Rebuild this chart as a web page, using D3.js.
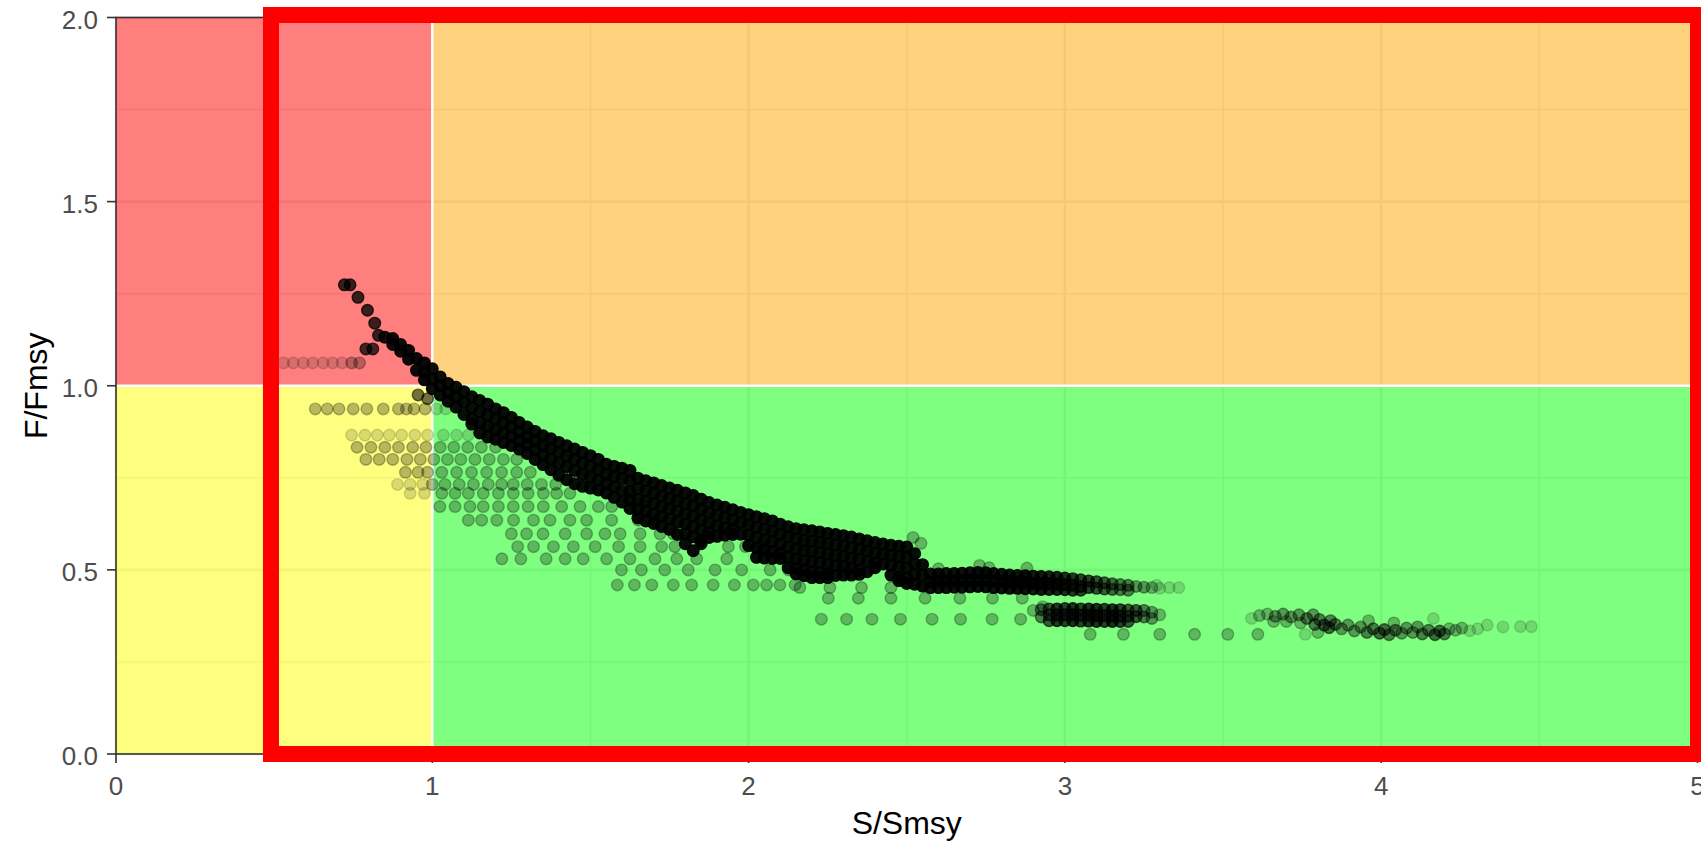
<!DOCTYPE html>
<html><head><meta charset="utf-8">
<script src="https://cdn.jsdelivr.net/npm/d3@7"></script>
<style>body{margin:0;background:#fff}svg{display:block}</style>
</head><body>
<svg id="chart" width="1701" height="843"></svg>
<script>
// ---------- axes / ticks ----------
const xTicks = [0, 1, 2, 3, 4, 5];
const xTickLabels = ["0", "1", "2", "3", "4", "5"];
const xMinor = [0.5, 1.5, 2.5, 3.5, 4.5];
const yTicks = [0, 0.5, 1, 1.5, 2];
const yTickLabels = ["0.0", "0.5", "1.0", "1.5", "2.0"];
const yMinor = [0.25, 0.75, 1.25, 1.75];
const xTitle = "S/Smsy";
const yTitle = "F/Fmsy";

// ---------- status zones [S0,S1,F0,F1,colour] ----------
const zones = [
  [0, 1, 1, 2, "#FF0000"],
  [1, 5, 1, 2, "#FFA500"],
  [0, 1, 0, 1, "#FFFF00"],
  [1, 5, 0, 1, "#00FF00"]
];
const refS = 1, refF = 1;

// ---------- points: [S, F, overlapping count] ----------
const trail = [
  [0.722,1.274,9],[0.740,1.274,9],[0.765,1.240,9],[0.795,1.205,9],
  [0.818,1.170,9],[0.830,1.137,9],[0.790,1.100,8],[0.812,1.100,8]
];
// rows: [F, [S...], count]
const redRow = [
  [1.062,[0.530,0.560,0.592,0.622,0.655,0.685,0.715],1],
  [1.062,[0.745,0.770],2]
];
const yellowRows = [
  [0.937,[0.630,0.668,0.705,0.750,0.793,0.845,0.893,0.918,0.942,0.977],2],
  [0.937,[1.014,1.042],1],
  [0.866,[0.745,0.787,0.826,0.864,0.903,0.945,0.985],1],
  [0.833,[0.762,0.806,0.850,0.893,0.938,0.980],2],
  [0.800,[0.790,0.832,0.875,0.920,0.962],2],
  [0.765,[0.915,0.955,0.985],2],
  [0.732,[0.890,0.930,0.970],1],
  [0.708,[0.930,0.975],1]
];
const greenRows = [
  [0.866,[1.035,1.077,1.114],1],
  [0.833,[1.025,1.068,1.112,1.155,1.200],2],
  [0.800,[1.005,1.048,1.090,1.135,1.180,1.225,1.267],2],
  [0.765,[1.030,1.077,1.124,1.172,1.219,1.267,1.310],2],
  [0.732,[1.000,1.040,1.085,1.130,1.177,1.219,1.256,1.300,1.345,1.390],2],
  [0.708,[1.030,1.072,1.114,1.161,1.209,1.256,1.303,1.351,1.393,1.435],2],
  [0.672,[1.024,1.072,1.119,1.161,1.209,1.256,1.303,1.351,1.409,1.467,1.525,1.567],2],
  [0.635,[1.114,1.156,1.204,1.257,1.320,1.372,1.435,1.488,1.567,1.651,1.704],2],
  [0.598,[1.250,1.298,1.350,1.420,1.488,1.546,1.594,1.657,1.720,1.762],2],
  [0.563,[1.270,1.320,1.383,1.446,1.515,1.589,1.657,1.725,1.767,1.936,1.990,2.040],2],
  [0.530,[1.220,1.280,1.360,1.420,1.477,1.551,1.625,1.704,1.773,1.836,1.931],2],
  [0.500,[1.598,1.661,1.735,1.809,1.894,1.978,2.068,2.126],2],
  [0.459,[1.585,1.639,1.694,1.762,1.820,1.888,1.955,2.015,2.057,2.099,2.147],2]
];
const lowerRows = [
  [0.452,[2.162,2.257,2.357,2.450],2],
  [0.423,[2.252,2.347,2.450,2.558,2.668,2.771,2.865],2],
  [0.366,[2.230,2.310,2.390,2.480,2.580,2.670,2.770,2.860],2],
  [0.325,[3.080,3.185,3.300,3.410,3.515,3.610],2]
];
// columns: [S, [F...], count]
const bandCols = [
  [0.850,[1.132],14],[0.875,[1.128,1.112],16],[0.900,[1.112,1.094],18],
  [0.925,[1.096,1.072],18],[0.950,[1.074,1.042],18],[0.975,[1.062,1.038,1.016],18],
  [1.000,[1.046,1.018,0.992],18],[1.025,[1.024,1.000,0.975],18],[1.050,[1.006,0.982,0.958],18],
  [1.075,[0.996,0.970,0.942],18],[1.100,[0.984,0.955,0.922],18],[1.125,[0.970,0.940,0.910,0.896],18],
  [1.150,[0.960,0.930,0.900,0.872],18],[1.175,[0.950,0.920,0.890,0.861],18],[1.200,[0.937,0.910,0.880,0.855],18],
  [1.225,[0.927,0.900,0.872,0.846],18],[1.250,[0.914,0.888,0.862,0.838],18],[1.275,[0.900,0.875,0.850,0.828],18],
  [1.300,[0.888,0.862,0.840,0.816],18],[1.325,[0.876,0.850,0.826,0.800],18],[1.350,[0.864,0.838,0.812,0.786],18],
  [1.375,[0.856,0.830,0.800,0.772],18],[1.400,[0.846,0.820,0.790,0.757],18],[1.425,[0.837,0.810,0.780,0.745],18],
  [1.450,[0.828,0.800,0.770,0.734],18],[1.475,[0.819,0.790,0.760,0.727],18],[1.500,[0.810,0.782,0.752,0.722],18],
  [1.525,[0.800,0.772,0.744,0.717],18],[1.550,[0.787,0.760,0.735,0.709],18],[1.575,[0.781,0.754,0.725,0.697],18],
  [1.600,[0.776,0.748,0.715,0.684],18],[1.625,[0.770,0.742,0.712,0.690,0.667],18],[1.650,[0.749,0.720,0.690,0.665,0.641],18],
  [1.675,[0.742,0.715,0.686,0.660,0.633],18],[1.700,[0.736,0.708,0.680,0.652,0.626],18],[1.725,[0.729,0.700,0.672,0.645,0.618],18],
  [1.750,[0.722,0.694,0.666,0.638,0.610],18],[1.775,[0.716,0.688,0.660,0.630,0.596],18],[1.800,[0.709,0.680,0.652,0.624,0.598,0.571],18],
  [1.825,[0.702,0.674,0.646,0.618,0.590,0.552],18],[1.850,[0.692,0.664,0.636,0.608,0.580,0.571],18],[1.875,[0.683,0.655,0.627,0.600,0.588],18],
  [1.900,[0.676,0.648,0.620,0.591],18],[1.925,[0.670,0.642,0.614,0.594],18],[1.950,[0.663,0.636,0.610,0.596],18],
  [1.975,[0.656,0.628,0.597],18],[2.000,[0.650,0.622,0.594,0.566],18],[2.025,[0.644,0.616,0.588,0.560,0.534],18],
  [2.050,[0.639,0.610,0.582,0.555,0.532],18],[2.075,[0.633,0.605,0.577,0.550,0.531],18],[2.100,[0.624,0.597,0.570,0.545,0.531],18],
  [2.125,[0.617,0.590,0.562,0.535,0.506],18],[2.150,[0.612,0.585,0.557,0.530,0.505,0.489],18],[2.175,[0.609,0.580,0.552,0.525,0.500,0.484],18],
  [2.200,[0.606,0.578,0.550,0.522,0.495,0.479],18],[2.225,[0.603,0.575,0.547,0.520,0.492,0.479],18],[2.250,[0.599,0.571,0.543,0.515,0.490,0.479],18],
  [2.275,[0.596,0.568,0.540,0.512,0.485],18],[2.300,[0.593,0.565,0.537,0.510,0.486],18],[2.325,[0.589,0.560,0.532,0.505,0.486],18],
  [2.350,[0.584,0.556,0.528,0.500,0.488],18],[2.375,[0.579,0.551,0.523,0.495],18],[2.400,[0.574,0.546,0.520,0.506],18],
  [2.425,[0.570,0.542,0.516],18],[2.450,[0.567,0.540,0.512,0.486],18],[2.475,[0.564,0.536,0.508,0.480,0.471],18],
  [2.500,[0.562,0.534,0.506,0.478,0.463],18],[2.525,[0.544,0.516,0.488,0.461],18],[2.550,[0.514,0.486,0.456],18],
  [2.575,[0.489,0.468,0.452],16],[2.600,[0.489,0.470,0.452],16],[2.625,[0.490,0.470,0.452],16],
  [2.650,[0.490,0.470,0.453],16],[2.675,[0.491,0.471,0.453],16],[2.700,[0.492,0.472,0.454],16],
  [2.725,[0.493,0.472,0.455],16],[2.750,[0.492,0.472,0.454],16],[2.775,[0.490,0.470,0.452],16],
  [2.800,[0.488,0.469,0.451],16],[2.825,[0.486,0.468,0.450],16],[2.850,[0.485,0.467,0.450],16],
  [2.875,[0.484,0.466,0.449],16],[2.900,[0.483,0.464,0.448],14],[2.925,[0.482,0.463,0.447],14],
  [2.950,[0.481,0.462,0.447],12],[2.975,[0.480,0.461,0.447],12],[3.000,[0.478,0.460,0.446],10],
  [3.025,[0.476,0.458,0.445],9],[3.050,[0.473,0.455,0.445],8],[3.075,[0.470,0.452],8],
  [3.100,[0.468,0.450],7],[3.125,[0.465,0.448],6],[3.150,[0.462,0.447],5],
  [3.175,[0.460,0.446],4],[3.200,[0.458,0.445],4],[3.225,[0.455],3],
  [3.250,[0.453],3],[3.275,[0.452],2],[3.300,[0.450],1]
];
const subBandCols = [
  [2.900,[0.390],2],[2.925,[0.392,0.372],4],[2.950,[0.394,0.378,0.362],6],
  [2.975,[0.394,0.378,0.362],9],[3.000,[0.395,0.378,0.362],8],[3.025,[0.395,0.378,0.362],10],
  [3.050,[0.394,0.377,0.361],8],[3.075,[0.394,0.377,0.361],10],[3.100,[0.393,0.376,0.360],10],
  [3.125,[0.393,0.376,0.360],8],[3.150,[0.392,0.375,0.360],10],[3.175,[0.392,0.375,0.360],8],
  [3.200,[0.391,0.374,0.360],6],[3.225,[0.390,0.373],6],[3.250,[0.390,0.372],4],
  [3.275,[0.385,0.368],3],[3.300,[0.378],2]
];
const extraPts = [
  [0.955,0.975,5],[0.985,0.965,5],[2.520,0.588,2],[2.545,0.572,2],[2.600,0.503,2],
  [2.730,0.512,2],[2.760,0.506,2],[2.880,0.505,2],[3.290,0.458,1],[3.330,0.452,1],
  [3.360,0.452,1],[2.930,0.400,2]
];
const tail = [
  [3.590,0.368,1],[3.615,0.376,2],[3.640,0.380,2],[3.660,0.360,2],[3.665,0.374,3],[3.690,0.380,3],
  [3.700,0.360,2],[3.715,0.372,3],[3.740,0.378,3],[3.745,0.356,2],[3.760,0.325,1],[3.765,0.368,4],
  [3.785,0.378,3],[3.790,0.352,4],[3.800,0.330,2],[3.805,0.365,4],[3.820,0.350,5],[3.835,0.343,5],
  [3.840,0.362,4],[3.855,0.352,4],[3.875,0.340,3],[3.895,0.350,3],[3.915,0.334,3],[3.935,0.345,3],
  [3.955,0.330,4],[3.960,0.362,2],[3.975,0.340,4],[3.995,0.328,5],[4.010,0.338,5],[4.025,0.324,4],
  [4.040,0.356,2],[4.045,0.336,4],[4.065,0.328,3],[4.080,0.342,3],[4.100,0.330,3],[4.115,0.345,3],
  [4.130,0.326,4],[4.150,0.336,4],[4.165,0.368,1],[4.170,0.324,5],[4.185,0.334,5],[4.200,0.326,4],
  [4.215,0.340,2],[4.235,0.336,2],[4.255,0.342,2],[4.280,0.335,1],[4.305,0.340,1],[4.335,0.350,1],
  [4.385,0.345,1],[4.440,0.346,1],[4.475,0.346,1]
];

// ---------- build ----------
const svg = d3.select("#chart");
const x = d3.scaleLinear().domain([0, 5]).range([116, 1697.5]);
const y = d3.scaleLinear().domain([0, 2]).range([754, 17.5]);
const font = "'Liberation Sans', Arial, Helvetica, sans-serif";

const pts = [];
const addPt = (s, f, n) => pts.push({s, f, n});
trail.forEach(d => addPt(d[0], d[1], d[2]));
[redRow, yellowRows, greenRows, lowerRows].forEach(rows =>
  rows.forEach(([f, ss, n]) => ss.forEach(s => addPt(s, f, n))));
[bandCols, subBandCols].forEach(cols =>
  cols.forEach(([s, fs, n]) => fs.forEach(f => addPt(s, f, n))));
extraPts.forEach(d => addPt(d[0], d[1], d[2]));
tail.forEach(d => addPt(d[0], d[1], d[2]));

const panel = svg.append("g");
panel.append("rect").attr("x", x(0)).attr("y", y(2))
  .attr("width", x(5) - x(0)).attr("height", y(0) - y(2)).attr("fill", "#fff");

// grid
const grid = panel.append("g").attr("stroke", "#EBEBEB").attr("fill", "none");
grid.selectAll(".vmin").data(xMinor).join("line")
  .attr("x1", d => x(d)).attr("x2", d => x(d)).attr("y1", y(0)).attr("y2", y(2)).attr("stroke-width", 1.5);
grid.selectAll(".hmin").data(yMinor).join("line")
  .attr("y1", d => y(d)).attr("y2", d => y(d)).attr("x1", x(0)).attr("x2", x(5)).attr("stroke-width", 1.5);
grid.selectAll(".vmaj").data(xTicks).join("line")
  .attr("x1", d => x(d)).attr("x2", d => x(d)).attr("y1", y(0)).attr("y2", y(2)).attr("stroke-width", 2.6);
grid.selectAll(".hmaj").data(yTicks).join("line")
  .attr("y1", d => y(d)).attr("y2", d => y(d)).attr("x1", x(0)).attr("x2", x(5)).attr("stroke-width", 2.6);

// zones
panel.selectAll(".zone").data(zones).join("rect")
  .attr("x", d => x(d[0])).attr("width", d => x(d[1]) - x(d[0]))
  .attr("y", d => y(d[3])).attr("height", d => y(d[2]) - y(d[3]))
  .attr("fill", d => d[4]).attr("fill-opacity", 0.5);

// reference lines
panel.append("line").attr("x1", x(refS)).attr("x2", x(refS)).attr("y1", y(0)).attr("y2", y(2))
  .attr("stroke", "#fff").attr("stroke-width", 2.5);
panel.append("line").attr("x1", x(0)).attr("x2", x(5)).attr("y1", y(refF)).attr("y2", y(refF))
  .attr("stroke", "#fff").attr("stroke-width", 2.5);

// points
const ALPHA = 0.15;
panel.append("g").selectAll("circle").data(pts).join("circle")
  .attr("cx", d => x(d.s)).attr("cy", d => y(d.f)).attr("r", 5.8)
  .attr("fill", "#000").attr("stroke", "#000").attr("stroke-width", 1.4)
  .attr("fill-opacity", d => 1 - Math.pow(1 - ALPHA, d.n))
  .attr("stroke-opacity", d => 1 - Math.pow(1 - ALPHA, d.n));

// panel border
panel.append("rect").attr("x", x(0)).attr("y", y(2))
  .attr("width", x(5) - x(0)).attr("height", y(0) - y(2))
  .attr("fill", "none").attr("stroke", "#333").attr("stroke-width", 1.6);

// ticks
const ax = svg.append("g");
ax.selectAll(".xt").data(xTicks).join("line")
  .attr("x1", d => x(d)).attr("x2", d => x(d)).attr("y1", y(0)).attr("y2", y(0) + 9)
  .attr("stroke", "#333").attr("stroke-width", 1.6);
ax.selectAll(".yt").data(yTicks).join("line")
  .attr("y1", d => y(d)).attr("y2", d => y(d)).attr("x1", x(0) - 9).attr("x2", x(0))
  .attr("stroke", "#333").attr("stroke-width", 1.6);
ax.selectAll(".xl").data(xTicks).join("text")
  .attr("x", d => x(d)).attr("y", 795).attr("text-anchor", "middle")
  .attr("font-family", font).attr("font-size", 26).attr("fill", "#4D4D4D")
  .text((d, i) => xTickLabels[i]);
ax.selectAll(".yl").data(yTicks).join("text")
  .attr("x", 98).attr("y", d => y(d) + 11).attr("text-anchor", "end")
  .attr("font-family", font).attr("font-size", 26).attr("fill", "#4D4D4D")
  .text((d, i) => yTickLabels[i]);

// titles
svg.append("text").attr("x", (x(0) + x(5)) / 2).attr("y", 834).attr("text-anchor", "middle")
  .attr("font-family", font).attr("font-size", 32).attr("fill", "#000").text(xTitle);
svg.append("text").attr("transform", `translate(47,${(y(0) + y(2)) / 2}) rotate(-90)`)
  .attr("text-anchor", "middle").attr("font-family", font).attr("font-size", 32)
  .attr("fill", "#000").text(yTitle);

// red highlight frame
svg.append("rect").attr("x", 271).attr("y", 15).attr("width", 1698 - 271).attr("height", 754 - 15)
  .attr("fill", "none").attr("stroke", "#FF0000").attr("stroke-width", 16);
</script>
</body></html>
